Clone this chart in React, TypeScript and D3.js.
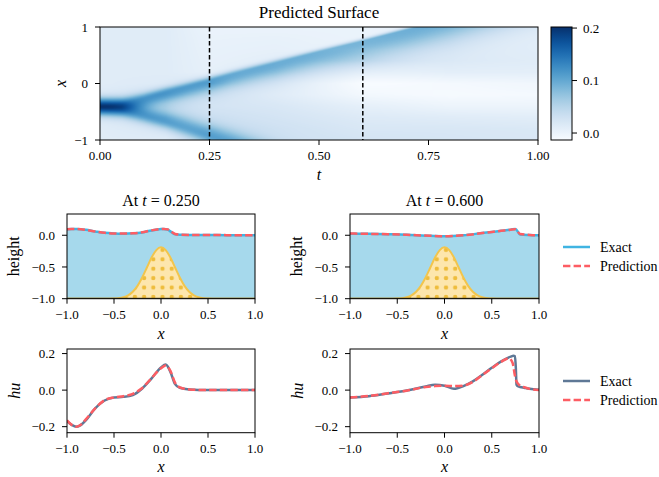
import React, { useMemo } from 'react';
import * as d3 from 'd3';

const FONT = '"Liberation Serif", "DejaVu Serif", serif';

// ---- predicted surface: wave tracks
const waveT = [0, 0.05, 0.1, 0.15, 0.2, 0.25, 0.3, 0.4, 0.5, 0.6, 0.7, 0.8, 1.0];
const rightPos = [-0.41, -0.37, -0.27, -0.16, -0.06, 0.04, 0.15, 0.35, 0.55, 0.74, 0.94, 1.14, 1.54];
const rightAmp = [0.094, 0.092, 0.09, 0.09, 0.09, 0.09, 0.088, 0.086, 0.086, 0.088, 0.09, 0.09, 0.09];
const rightBack = [0.15, 0.16, 0.17, 0.18, 0.19, 0.2, 0.22, 0.27, 0.32, 0.38, 0.4, 0.4, 0.4];
const rightFront = [0.15, 0.13, 0.11, 0.1, 0.09, 0.085, 0.08, 0.07, 0.06, 0.052, 0.05, 0.05, 0.05];
const leftPos = [-0.41, -0.46, -0.56, -0.67, -0.79, -0.92, -1.04, -1.28, -1.52, -1.76, -2.0, -2.24, -2.72];
const leftAmp = [0.094, 0.09, 0.085, 0.08, 0.075, 0.07, 0.068, 0.065, 0.065, 0.065, 0.065, 0.065, 0.065];
const leftBack = [0.15, 0.16, 0.17, 0.18, 0.19, 0.2, 0.21, 0.22, 0.22, 0.22, 0.22, 0.22, 0.22];
const leftFront = [0.15, 0.14, 0.14, 0.14, 0.15, 0.15, 0.15, 0.15, 0.15, 0.15, 0.15, 0.15, 0.15];

// slowly varying level under the waves
const baseX = [-1, -0.8, -0.6, -0.4, -0.2, 0, 0.2, 0.4, 0.6, 0.8, 1];
const baseT = [0, 0.15, 0.25, 0.4, 0.6, 0.8, 1.0];
const base000 = [0.012, 0.012, 0.012, 0.012, 0.012, 0.012, 0.012, 0.012, 0.012, 0.012, 0.012];
const base015 = [0.012, 0.02, 0.035, 0.04, 0.03, 0.014, 0.012, 0.012, 0.012, 0.012, 0.012];
const base025 = [0.04, 0.038, 0.032, 0.025, 0.027, 0.023, 0.005, 0.004, 0.003, 0.002, 0.0];
const base040 = [0.03, 0.03, 0.025, 0.02, 0.012, 0.012, 0.015, 0.008, 0.005, 0.003, 0.0];
const base060 = [0.025, 0.02, 0.015, 0.006, -0.008, -0.016, -0.002, 0.012, 0.0, 0.0, 0.0];
const base080 = [0.022, 0.02, 0.012, -0.002, -0.012, -0.01, 0.008, 0.015, 0.012, 0.008, 0.005];
const base100 = [0.02, 0.018, 0.01, -0.002, -0.01, -0.006, 0.008, 0.012, 0.01, 0.008, 0.006];
const baseRows = [base000, base015, base025, base040, base060, base080, base100];

const vmin = -0.0133;
const vmax = 0.202;
const cbarTicks = [0.0, 0.1, 0.2];
const heatTTicks = [0, 0.25, 0.5, 0.75, 1.0];
const heatXTicks = [-1, 0, 1];
const sliceTimes = [0.25, 0.6];

// ---- slices
const xTicks = [-1, -0.5, 0, 0.5, 1];
const heightTicks = [-1, -0.5, 0];
const huTicks = [-0.2, 0, 0.2];

const bathX = [-1, -0.6, -0.5, -0.45, -0.4, -0.35, -0.3, -0.25, -0.2, -0.15, -0.1, -0.05, 0, 0.05, 0.1, 0.15, 0.2, 0.25, 0.3, 0.35, 0.4, 0.45, 0.5, 0.6, 1];
const bathY = [-1, -1, -0.997, -0.991, -0.977, -0.947, -0.89, -0.798, -0.667, -0.509, -0.351, -0.234, -0.19, -0.234, -0.351, -0.509, -0.667, -0.798, -0.89, -0.947, -0.977, -0.991, -0.997, -1, -1];

const heightX25 = [-1, -0.95, -0.9, -0.85, -0.8, -0.7, -0.6, -0.5, -0.4, -0.3, -0.2, -0.1, 0, 0.03, 0.07, 0.1, 0.15, 0.2, 0.4, 0.7, 1.0];
const heightExact25 = [0.095, 0.1, 0.1, 0.095, 0.085, 0.06, 0.038, 0.028, 0.025, 0.03, 0.045, 0.076, 0.098, 0.1, 0.09, 0.062, 0.015, 0.007, 0.004, 0.002, 0.0];
const heightPred25 = [0.094, 0.1, 0.1, 0.094, 0.084, 0.06, 0.039, 0.029, 0.026, 0.031, 0.046, 0.077, 0.097, 0.1, 0.092, 0.068, 0.02, 0.009, 0.004, 0.002, 0.001];

const heightX60 = [-1, -0.8, -0.6, -0.4, -0.2, 0, 0.2, 0.4, 0.5, 0.6, 0.7, 0.75, 0.8, 0.9, 1.0];
const heightExact60 = [0.025, 0.022, 0.016, 0.008, -0.006, -0.016, 0.0, 0.035, 0.052, 0.07, 0.088, 0.1, 0.012, 0.004, 0.0];
const heightPred60 = [0.027, 0.022, 0.016, 0.008, -0.005, -0.014, 0.0, 0.034, 0.052, 0.07, 0.088, 0.096, 0.02, 0.005, 0.0];

const huX25 = [-1, -0.95, -0.9, -0.85, -0.8, -0.7, -0.6, -0.5, -0.4, -0.3, -0.2, -0.1, 0, 0.05, 0.1, 0.15, 0.2, 0.3, 0.5, 1.0];
const huExact25 = [-0.17, -0.19, -0.2, -0.19, -0.165, -0.1, -0.057, -0.04, -0.037, -0.027, 0.009, 0.064, 0.124, 0.14, 0.1, 0.033, 0.013, 0.004, 0.0, 0.0];
const huPred25 = [-0.165, -0.19, -0.2, -0.188, -0.16, -0.1, -0.055, -0.04, -0.033, -0.02, 0.012, 0.066, 0.12, 0.135, 0.105, 0.04, 0.015, 0.004, 0.0, 0.0];

const huX60e = [-1, -0.8, -0.6, -0.4, -0.2, -0.1, 0, 0.1, 0.2, 0.3, 0.4, 0.5, 0.6, 0.7, 0.73, 0.745, 0.755, 0.762, 0.78, 0.85, 0.9, 1.0];
const huExact60 = [-0.04, -0.033, -0.018, -0.002, 0.02, 0.029, 0.024, 0.007, 0.022, 0.048, 0.084, 0.122, 0.157, 0.183, 0.188, 0.186, 0.12, 0.03, 0.02, 0.012, 0.007, 0.002];
const huX60p = [-1, -0.8, -0.6, -0.4, -0.2, -0.1, 0, 0.1, 0.2, 0.3, 0.4, 0.5, 0.6, 0.68, 0.72, 0.745, 0.76, 0.8, 0.85, 0.9, 1.0];
const huPred60 = [-0.04, -0.032, -0.017, -0.003, 0.017, 0.022, 0.024, 0.022, 0.025, 0.045, 0.082, 0.12, 0.155, 0.174, 0.15, 0.08, 0.05, 0.025, 0.015, 0.007, 0.0];

const legendLabels = ['Exact', 'Prediction'];

// colours
const WATER = '#a6d9ec';
const EXACT_H = '#40b4e2';
const EXACT_HU = '#5f7896';
const PRED = '#fd5d63';
const SAND = '#fde6ad';
const SAND_EDGE = '#f2c54c';
const SAND_DOT = '#eebd3c';

const fmt = (v: number, digits: number) => d3.format(`.${digits}f`)(v).replace('-', '\u2212');

type Scale = d3.ScaleLinear<number, number>;

function Axes({ x, y, xT, yT, xd, yd }: { x: Scale; y: Scale; xT: number[]; yT: number[]; xd: number; yd: number }) {
  const [l, r] = x.range();
  const [b, t] = y.range();
  return (
    <g fontFamily={FONT} fontSize={13} fill="#000">
      {xT.map((v) => (
        <g key={'x' + v}>
          <line x1={x(v)} x2={x(v)} y1={b} y2={b + 5} stroke="#000" strokeWidth={1} />
          <text x={x(v)} y={b + 20} textAnchor="middle">{fmt(v, xd)}</text>
        </g>
      ))}
      {yT.map((v) => (
        <g key={'y' + v}>
          <line x1={l - 5} x2={l} y1={y(v)} y2={y(v)} stroke="#000" strokeWidth={1} />
          <text x={l - 12} y={y(v)} dy="0.35em" textAnchor="end">{fmt(v, yd)}</text>
        </g>
      ))}
      <rect x={l} y={t} width={r - l} height={b - t} fill="none" stroke="#000" strokeWidth={1} />
    </g>
  );
}

function linePath(x: Scale, y: Scale, xs: number[], ys: number[]) {
  return d3.line<number>().x((_, i) => x(xs[i])).y((d) => y(d)).curve(d3.curveMonotoneX)(ys) || '';
}

function YLabel({ cx, cy, children }: { cx: number; cy: number; children: React.ReactNode }) {
  return (
    <text transform={`translate(${cx},${cy}) rotate(-90)`} dy="0.35em" textAnchor="middle" fontFamily={FONT} fontSize={16}>
      {children}
    </text>
  );
}

const cols = [{ left: 67, width: 188 }, { left: 350, width: 189 }];
const rowH = { top: 214, bottom: 298.7 };
const rowHu = { top: 349, bottom: 432.7 };

function HeightPanel({ idx, t, xs, exact, pred }: { idx: number; t: number; xs: number[]; exact: number[]; pred: number[] }) {
  const { left, width } = cols[idx];
  const x = d3.scaleLinear().domain([-1, 1]).range([left, left + width]);
  const y = d3.scaleLinear().domain([-1, 0.335]).range([rowH.bottom, rowH.top]);
  const water = d3.area<number>().x((_, i) => x(xs[i])).y0(y(-1)).y1((d) => y(d)).curve(d3.curveMonotoneX)(exact) || '';
  const sand = d3.area<number>().x((_, i) => x(bathX[i])).y0(y(-1)).y1((d) => y(d)).curve(d3.curveMonotoneX)(bathY) || '';
  const clip = `clipH${idx}`;
  const pat = `dots${idx}`;
  return (
    <g>
      <defs>
        <clipPath id={clip}>
          <rect x={left} y={rowH.top} width={width} height={rowH.bottom - rowH.top} />
        </clipPath>
        <pattern id={pat} patternUnits="userSpaceOnUse" x={x(0) + 1.5 - 4.6} y={259.3 - 4.7} width={9.2} height={9.4}>
          <circle cx={4.6} cy={4.7} r={2.2} fill={SAND_DOT} />
        </pattern>
      </defs>
      <g clipPath={`url(#${clip})`}>
        <path d={water} fill={WATER} />
        <path d={sand} fill={SAND} />
        <path d={sand} fill={`url(#${pat})`} />
        <path d={linePath(x, y, bathX, bathY)} fill="none" stroke={SAND_EDGE} strokeWidth={2} />
        <line x1={left} x2={left + width} y1={y(-1)} y2={y(-1)} stroke="#5c4b17" strokeWidth={2} />
        <path d={linePath(x, y, xs, exact)} fill="none" stroke={EXACT_H} strokeWidth={2.5} />
        <path d={linePath(x, y, xs, pred)} fill="none" stroke={PRED} strokeWidth={2.5} strokeDasharray="7.4,3.2" />
      </g>
      <Axes x={x} y={y} xT={xTicks} yT={heightTicks} xd={1} yd={1} />
      <text x={left + width / 2} y={206} textAnchor="middle" fontFamily={FONT} fontSize={16}>
        At <tspan fontStyle="italic">t</tspan> = {fmt(t, 3)}
      </text>
      <YLabel cx={left - 53.5} cy={(rowH.top + rowH.bottom) / 2}>height</YLabel>
      <text x={left + width / 2} y={339} textAnchor="middle" fontFamily={FONT} fontSize={16} fontStyle="italic">x</text>
    </g>
  );
}

function HuPanel({ idx, xe, exact, xp, pred }: { idx: number; xe: number[]; exact: number[]; xp: number[]; pred: number[] }) {
  const { left, width } = cols[idx];
  const x = d3.scaleLinear().domain([-1, 1]).range([left, left + width]);
  const y = d3.scaleLinear().domain([-0.233, 0.225]).range([rowHu.bottom, rowHu.top]);
  const clip = `clipU${idx}`;
  return (
    <g>
      <defs>
        <clipPath id={clip}>
          <rect x={left} y={rowHu.top} width={width} height={rowHu.bottom - rowHu.top} />
        </clipPath>
      </defs>
      <g clipPath={`url(#${clip})`}>
        <path d={linePath(x, y, xe, exact)} fill="none" stroke={EXACT_HU} strokeWidth={2.5} />
        <path d={linePath(x, y, xp, pred)} fill="none" stroke={PRED} strokeWidth={2.5} strokeDasharray="7.4,3.2" />
      </g>
      <Axes x={x} y={y} xT={xTicks} yT={huTicks} xd={1} yd={1} />
      <YLabel cx={left - 53} cy={(rowHu.top + rowHu.bottom) / 2}>
        <tspan fontStyle="italic">hu</tspan>
      </YLabel>
      <text x={left + width / 2} y={471.5} textAnchor="middle" fontFamily={FONT} fontSize={16} fontStyle="italic">x</text>
    </g>
  );
}

function Legend({ y0, exactColor }: { y0: number; exactColor: string }) {
  return (
    <g fontFamily={FONT} fontSize={14}>
      {legendLabels.map((lab, i) => {
        const yy = y0 + i * 19;
        return (
          <g key={lab}>
            <line x1={563} x2={590} y1={yy} y2={yy} stroke={i === 0 ? exactColor : PRED} strokeWidth={2.5}
              strokeDasharray={i === 0 ? undefined : '7.4,3.2'} />
            <text x={600} y={yy + 4.5}>{lab}</text>
          </g>
        );
      })}
    </g>
  );
}

const heat = { left: 100, top: 27, w: 438, h: 113 };
const cbar = { left: 551, top: 27, w: 21, h: 113 };

export default function App() {
  const tScale = d3.scaleLinear().domain([0, 1]).range([heat.left, heat.left + heat.w]);
  const xScale = d3.scaleLinear().domain([-1, 1]).range([heat.top + heat.h, heat.top]);
  const cScale = d3.scaleLinear().domain([vmin, vmax]).range([cbar.top + cbar.h, cbar.top]);

  const heatUrl = useMemo(() => {
    const cw = heat.w;
    const ch = heat.h;
    const canvas = document.createElement('canvas');
    canvas.width = cw;
    canvas.height = ch;
    const ctx = canvas.getContext('2d');
    if (!ctx) return '';
    const img = ctx.createImageData(cw, ch);
    const norm = d3.scaleLinear().domain([vmin, vmax]).range([0, 255]).clamp(true);
    const lut = d3.range(256).map((k) => d3.rgb(d3.interpolateBlues(k / 255)));
    const at = (arr: number[]) => d3.scaleLinear().domain(waveT).range(arr).clamp(true);
    const rp = at(rightPos), ra = at(rightAmp), rb = at(rightBack), rf = at(rightFront);
    const lp = at(leftPos), la = at(leftAmp), lb = at(leftBack), lf = at(leftFront);
    const rowScales = baseRows.map((row) => d3.scaleLinear().domain(baseX).range(row).clamp(true));
    const px = d3.scaleLinear().domain([0, cw]).range([0, 1]);
    const py = d3.scaleLinear().domain([0, ch]).range([1, -1]);
    for (let i = 0; i < cw; i++) {
      const t = px(i + 0.5);
      const R = { p: rp(t), a: ra(t), b: rb(t), f: rf(t) };
      const L = { p: lp(t), a: la(t), b: lb(t), f: lf(t) };
      for (let j = 0; j < ch; j++) {
        const x = py(j + 0.5);
        const baseAtT = d3.scaleLinear().domain(baseT).range(rowScales.map((s) => s(x))).clamp(true);
        const dr = x - R.p;
        const wr = dr > 0 ? R.f : R.b;
        const dl = x - L.p;
        const wl = dl < 0 ? L.f : L.b;
        const v = baseAtT(t) + R.a * Math.exp(-(dr / wr) * (dr / wr)) + L.a * Math.exp(-(dl / wl) * (dl / wl));
        const c = lut[Math.round(norm(v))];
        const k = (j * cw + i) * 4;
        img.data[k] = c.r;
        img.data[k + 1] = c.g;
        img.data[k + 2] = c.b;
        img.data[k + 3] = 255;
      }
    }
    ctx.putImageData(img, 0, 0);
    return canvas.toDataURL();
  }, []);

  const stops = d3.range(0, 1.0001, 0.05);

  return (
    <svg width={659} height={477} style={{ position: 'absolute', left: 0, top: 0, background: '#fff' }}>
      <rect width={659} height={477} fill="#fff" />
      <defs>
        <linearGradient id="cbarGrad" x1="0" y1="1" x2="0" y2="0">
          {stops.map((s) => (
            <stop key={s} offset={s} stopColor={d3.interpolateBlues(s)} />
          ))}
        </linearGradient>
      </defs>

      {/* heat map */}
      <text x={heat.left + heat.w / 2} y={18} textAnchor="middle" fontFamily={FONT} fontSize={17}>Predicted Surface</text>
      {heatUrl && (
        <image href={heatUrl} x={heat.left} y={heat.top} width={heat.w} height={heat.h} preserveAspectRatio="none" />
      )}
      {sliceTimes.map((t) => (
        <line key={t} x1={tScale(t)} x2={tScale(t)} y1={heat.top} y2={heat.top + heat.h} stroke="#000" strokeWidth={1.5} strokeDasharray="4.5,2.5" />
      ))}
      <Axes x={tScale} y={xScale} xT={heatTTicks} yT={heatXTicks} xd={2} yd={0} />
      <text x={heat.left + heat.w / 2} y={180} textAnchor="middle" fontFamily={FONT} fontSize={16} fontStyle="italic">t</text>
      <YLabel cx={60} cy={heat.top + heat.h / 2}>
        <tspan fontStyle="italic">x</tspan>
      </YLabel>

      {/* colour bar */}
      <rect x={cbar.left} y={cbar.top} width={cbar.w} height={cbar.h} fill="url(#cbarGrad)" stroke="#000" strokeWidth={1} />
      <g fontFamily={FONT} fontSize={13}>
        {cbarTicks.map((v) => (
          <g key={v}>
            <line x1={cbar.left + cbar.w} x2={cbar.left + cbar.w + 5} y1={cScale(v)} y2={cScale(v)} stroke="#000" />
            <text x={cbar.left + cbar.w + 11} y={cScale(v)} dy="0.35em">{fmt(v, 1)}</text>
          </g>
        ))}
      </g>

      <HeightPanel idx={0} t={sliceTimes[0]} xs={heightX25} exact={heightExact25} pred={heightPred25} />
      <HeightPanel idx={1} t={sliceTimes[1]} xs={heightX60} exact={heightExact60} pred={heightPred60} />
      <HuPanel idx={0} xe={huX25} exact={huExact25} xp={huX25} pred={huPred25} />
      <HuPanel idx={1} xe={huX60e} exact={huExact60} xp={huX60p} pred={huPred60} />

      <Legend y0={247} exactColor={EXACT_H} />
      <Legend y0={381} exactColor={EXACT_HU} />
    </svg>
  );
}
